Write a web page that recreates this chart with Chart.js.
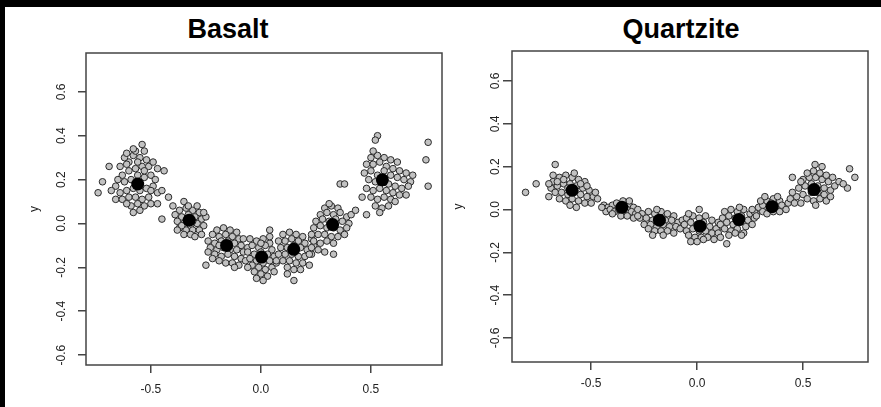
<!DOCTYPE html>
<html>
<head>
<meta charset="utf-8">
<script src="https://cdn.jsdelivr.net/npm/chart.js@4"></script>
<style>
  body { margin: 0; background: #000; width: 881px; height: 407px; overflow: hidden; }
  #sheet { position: absolute; left: 5px; top: 7px; width: 876px; height: 400px; background: #fff; }
  canvas { position: absolute; top: 0; }
  .title { position: absolute; top: 9px; font: bold 27px "Liberation Sans", Arial, sans-serif; line-height: 27px; color: #000; white-space: nowrap; transform: translateX(-50%); }
</style>
</head>
<body>
<div id="sheet">
  <div class="title" style="left:223px">Basalt</div>
  <div class="title" style="left:676px">Quartzite</div>
  <canvas id="basalt" width="446" height="400" style="left:0"></canvas>
  <canvas id="quartzite" width="430" height="400" style="left:446px"></canvas>
</div>
<script>
const xTickValues = [-0.5, 0, 0.5];
const yTickValues = [-0.6, -0.4, -0.2, 0, 0.2, 0.4, 0.6];

// cluster means (black dots)
const basaltCentres = [[-0.56,0.18],[-0.326,0.015],[-0.156,-0.10],[0.003,-0.153],[0.149,-0.118],[0.326,-0.005],[0.552,0.199]];
const quartziteCentres = [[-0.59,0.09],[-0.355,0.01],[-0.178,-0.05],[0.014,-0.078],[0.197,-0.047],[0.354,0.013],[0.552,0.093]];

// individual samples
const basaltPoints = [
  [-0.60,0.28],[-0.58,0.31],[-0.55,0.30],[-0.52,0.29],[-0.51,0.26],[-0.54,0.26],[-0.57,0.25],[-0.60,0.24],[-0.63,0.22],[-0.62,0.19],
  [-0.59,0.20],[-0.56,0.22],[-0.53,0.21],[-0.50,0.22],[-0.48,0.20],[-0.49,0.17],[-0.52,0.16],[-0.55,0.15],[-0.58,0.16],[-0.61,0.15],
  [-0.64,0.14],[-0.66,0.11],[-0.63,0.11],[-0.60,0.12],[-0.57,0.12],[-0.54,0.11],[-0.51,0.12],[-0.53,0.08],[-0.56,0.09],[-0.59,0.08],
  [-0.61,0.09],[-0.58,0.05],[-0.55,0.06],[-0.50,0.09],[-0.47,0.14],[-0.47,0.25],[-0.53,0.24],[-0.61,0.27],[-0.64,0.26],[-0.66,0.17],
  [-0.68,0.15],[-0.62,0.30],[-0.57,0.33],[-0.53,0.33],[-0.49,0.28],[-0.56,0.28],[-0.50,0.15],[-0.65,0.20],
  [-0.74,0.14],[-0.72,0.19],[-0.69,0.26],[-0.54,0.36],[-0.58,0.34],[-0.61,0.32],[-0.44,0.24],[-0.45,0.15],[-0.42,0.12],[-0.47,0.09],
  [-0.45,0.02],[-0.40,0.08],[-0.35,0.10],
  [-0.37,0.06],[-0.34,0.07],[-0.31,0.06],[-0.28,0.05],[-0.36,0.03],[-0.33,0.04],[-0.30,0.03],[-0.27,0.02],[-0.38,0.01],[-0.35,0.00],
  [-0.32,-0.01],[-0.29,0.00],[-0.26,-0.01],[-0.37,-0.02],[-0.34,-0.03],[-0.31,-0.03],[-0.28,-0.03],[-0.35,-0.05],[-0.32,-0.05],[-0.30,-0.06],
  [-0.39,0.04],[-0.29,0.08],[-0.25,0.03],[-0.33,0.02],[-0.31,0.01],[-0.36,-0.01],[-0.27,-0.05],[-0.38,-0.03],[-0.33,0.08],[-0.26,0.05],
  [-0.20,-0.03],[-0.17,-0.02],[-0.14,-0.03],[-0.11,-0.04],[-0.22,-0.05],[-0.19,-0.06],[-0.16,-0.05],[-0.13,-0.06],[-0.10,-0.07],[-0.24,-0.08],
  [-0.21,-0.09],[-0.18,-0.08],[-0.15,-0.08],[-0.12,-0.09],[-0.09,-0.10],[-0.23,-0.11],[-0.20,-0.12],[-0.17,-0.11],[-0.14,-0.12],[-0.11,-0.12],
  [-0.08,-0.13],[-0.21,-0.14],[-0.18,-0.15],[-0.15,-0.14],[-0.12,-0.15],[-0.09,-0.16],[-0.19,-0.17],[-0.16,-0.18],[-0.13,-0.18],[-0.10,-0.19],
  [-0.07,-0.17],[-0.22,-0.16],[-0.08,-0.07],[-0.06,-0.11],[-0.24,-0.13],[-0.12,-0.20],[-0.16,-0.10],[-0.19,-0.10],[-0.25,-0.19],
  [-0.05,-0.07],[-0.02,-0.08],[0.01,-0.07],[0.04,-0.09],[-0.04,-0.10],[-0.01,-0.11],[0.02,-0.10],[0.05,-0.12],[-0.06,-0.13],[-0.03,-0.14],
  [0.00,-0.13],[0.03,-0.14],[0.06,-0.15],[-0.05,-0.16],[-0.02,-0.17],[0.01,-0.18],[0.04,-0.17],[-0.04,-0.19],[-0.01,-0.20],[0.02,-0.21],
  [0.05,-0.20],[-0.03,-0.22],[0.00,-0.23],[0.03,-0.24],[-0.02,-0.25],[0.01,-0.26],[0.07,-0.18],[0.06,-0.22],[-0.06,-0.20],[0.04,-0.06],
  [0.00,-0.09],[0.04,-0.03],
  [0.10,-0.05],[0.13,-0.04],[0.16,-0.05],[0.19,-0.06],[0.08,-0.08],[0.11,-0.08],[0.14,-0.07],[0.17,-0.08],[0.20,-0.09],[0.23,-0.07],
  [0.09,-0.11],[0.12,-0.11],[0.15,-0.10],[0.18,-0.11],[0.21,-0.12],[0.08,-0.14],[0.11,-0.14],[0.14,-0.14],[0.17,-0.15],[0.20,-0.15],
  [0.23,-0.14],[0.10,-0.17],[0.13,-0.17],[0.16,-0.18],[0.19,-0.18],[0.22,-0.19],[0.12,-0.20],[0.15,-0.21],[0.07,-0.17],[0.18,-0.21],
  [0.24,-0.10],[0.15,-0.26],[0.12,-0.23],
  [0.29,0.07],[0.32,0.08],[0.35,0.07],[0.27,0.04],[0.30,0.05],[0.33,0.04],[0.36,0.05],[0.39,0.03],[0.25,0.01],[0.28,0.02],
  [0.31,0.01],[0.34,0.02],[0.37,0.01],[0.40,0.00],[0.24,-0.02],[0.27,-0.01],[0.30,-0.02],[0.33,-0.02],[0.36,-0.03],[0.39,-0.02],
  [0.23,-0.05],[0.26,-0.05],[0.29,-0.05],[0.32,-0.06],[0.35,-0.06],[0.24,-0.08],[0.27,-0.09],[0.30,-0.08],[0.33,-0.09],[0.23,-0.11],
  [0.26,-0.12],[0.22,-0.14],[0.41,0.04],[0.38,-0.05],[0.31,0.09],
  [0.29,-0.13],[0.33,-0.14],[0.36,0.18],[0.38,0.18],[0.43,0.06],[0.48,0.04],
  [0.50,0.30],[0.53,0.31],[0.56,0.30],[0.59,0.29],[0.62,0.28],[0.48,0.27],[0.51,0.27],[0.54,0.28],[0.57,0.26],[0.60,0.25],
  [0.63,0.24],[0.66,0.23],[0.47,0.23],[0.50,0.24],[0.53,0.22],[0.56,0.24],[0.59,0.22],[0.62,0.21],[0.65,0.20],[0.68,0.19],
  [0.49,0.20],[0.52,0.19],[0.58,0.18],[0.61,0.17],[0.64,0.16],[0.67,0.17],[0.48,0.16],[0.51,0.15],[0.54,0.16],[0.57,0.15],
  [0.60,0.14],[0.63,0.13],[0.50,0.12],[0.53,0.11],[0.56,0.12],[0.59,0.11],[0.52,0.08],[0.55,0.07],[0.58,0.08],[0.61,0.10],
  [0.46,0.12],[0.69,0.22],[0.66,0.13],[0.55,0.20],
  [0.53,0.40],[0.52,0.38],[0.51,0.33],[0.54,0.05],[0.76,0.37],[0.75,0.29],[0.76,0.17]
];

const quartzitePoints = [
  [-0.68,0.13],[-0.65,0.15],[-0.62,0.16],[-0.59,0.15],[-0.56,0.14],[-0.53,0.13],[-0.69,0.10],[-0.66,0.11],[-0.63,0.12],[-0.60,0.12],
  [-0.57,0.11],[-0.54,0.10],[-0.51,0.09],[-0.67,0.08],[-0.64,0.08],[-0.61,0.07],[-0.58,0.08],[-0.55,0.07],[-0.52,0.06],[-0.49,0.06],
  [-0.65,0.05],[-0.62,0.04],[-0.59,0.05],[-0.56,0.04],[-0.53,0.03],[-0.50,0.03],[-0.47,0.05],[-0.60,0.02],[-0.57,0.01],[-0.63,0.14],
  [-0.58,0.17],[-0.61,0.10],[-0.48,0.08],[-0.55,0.12],[-0.66,0.13],[-0.70,0.12],[-0.52,0.11],
  [-0.81,0.08],[-0.76,0.12],[-0.67,0.21],[-0.70,0.06],[-0.68,0.16],
  [-0.44,0.02],[-0.42,0.01],[-0.40,0.02],[-0.38,0.03],[-0.36,0.02],[-0.34,0.03],[-0.32,0.02],[-0.30,0.01],[-0.43,-0.01],[-0.41,0.00],
  [-0.39,-0.01],[-0.37,0.00],[-0.35,-0.01],[-0.33,0.00],[-0.31,-0.01],[-0.29,-0.02],[-0.40,-0.02],[-0.36,-0.03],[-0.33,-0.03],[-0.30,-0.04],
  [-0.45,0.01],[-0.28,0.00],[-0.35,0.04],[-0.32,0.04],
  [-0.26,-0.02],[-0.23,-0.01],[-0.20,-0.02],[-0.17,-0.01],[-0.14,-0.02],[-0.11,-0.03],[-0.27,-0.04],[-0.24,-0.04],[-0.21,-0.05],[-0.18,-0.04],
  [-0.15,-0.05],[-0.12,-0.05],[-0.09,-0.06],[-0.25,-0.07],[-0.22,-0.07],[-0.19,-0.08],[-0.16,-0.07],[-0.13,-0.08],[-0.10,-0.08],[-0.23,-0.09],
  [-0.20,-0.10],[-0.17,-0.10],[-0.14,-0.10],[-0.11,-0.11],[-0.21,-0.12],[-0.08,-0.09],[-0.19,0.00],[-0.07,-0.05],[-0.16,-0.12],[-0.28,-0.03],
  [-0.05,-0.04],[-0.02,-0.03],[0.01,-0.04],[0.04,-0.03],[0.07,-0.05],[0.10,-0.06],[-0.06,-0.07],[-0.03,-0.06],[0.00,-0.07],[0.03,-0.06],
  [0.06,-0.08],[0.09,-0.09],[0.12,-0.08],[-0.05,-0.10],[-0.02,-0.09],[0.01,-0.10],[0.04,-0.10],[0.07,-0.11],[0.10,-0.11],[-0.04,-0.12],
  [-0.01,-0.13],[0.02,-0.13],[0.05,-0.13],[0.08,-0.14],[-0.03,-0.15],[0.00,-0.15],[0.03,-0.14],[-0.04,-0.02],[0.01,0.00],[0.11,-0.13],
  [0.13,-0.01],[0.16,0.00],[0.19,-0.01],[0.22,0.00],[0.25,-0.02],[0.12,-0.04],[0.15,-0.03],[0.18,-0.04],[0.21,-0.03],[0.24,-0.05],
  [0.27,-0.04],[0.11,-0.07],[0.14,-0.06],[0.17,-0.07],[0.20,-0.06],[0.23,-0.08],[0.26,-0.07],[0.13,-0.09],[0.16,-0.10],[0.19,-0.09],
  [0.22,-0.11],[0.15,-0.12],[0.18,-0.11],[0.28,-0.02],[0.20,0.01],[0.14,-0.16],[0.21,-0.12],
  [0.27,-0.01],[0.29,0.01],[0.31,0.02],[0.33,0.04],[0.36,0.05],[0.39,0.04],[0.28,-0.03],[0.31,-0.01],[0.34,0.00],[0.37,0.01],
  [0.40,0.02],[0.43,0.03],[0.30,0.04],[0.33,-0.02],[0.36,-0.01],[0.39,-0.01],[0.42,0.00],[0.35,0.03],[0.38,0.06],[0.44,0.05],
  [0.32,0.06],[0.26,0.00],
  [0.47,0.06],[0.50,0.07],[0.46,0.03],[0.49,0.03],[0.52,0.05],[0.55,0.04],[0.58,0.05],[0.61,0.04],[0.48,0.10],[0.51,0.11],
  [0.54,0.12],[0.57,0.11],[0.60,0.10],[0.63,0.09],[0.50,0.14],[0.53,0.15],[0.56,0.15],[0.59,0.14],[0.62,0.13],[0.52,0.17],
  [0.55,0.18],[0.58,0.17],[0.61,0.16],[0.54,0.08],[0.57,0.08],[0.60,0.07],[0.63,0.06],[0.45,0.08],[0.65,0.11],[0.64,0.15],
  [0.49,0.13],[0.56,0.02],[0.59,0.20],
  [0.45,0.15],[0.557,0.21],[0.72,0.19],[0.745,0.15],[0.71,0.10],[0.67,0.13],[0.69,0.12]
];

const boxPlugin = {
  id: "box",
  beforeDatasetsDraw(chart) {
    const { ctx, chartArea: a } = chart;
    ctx.save();
    ctx.strokeStyle = "#444";
    ctx.lineWidth = 1.5;
    ctx.strokeRect(a.left, a.top, a.right - a.left, a.bottom - a.top);
    ctx.restore();
  },
};

const tickFont = { family: "Liberation Sans, Arial, sans-serif", size: 12 };

function makePanel(id, points, centres, xr, yr, lay) {
  const toXY = (p) => ({ x: p[0], y: p[1] });
  return new Chart(document.getElementById(id), {
    type: "scatter",
    data: {
      datasets: [
        { data: centres.map(toXY), pointRadius: 6.5, backgroundColor: "#000", borderColor: "#000", borderWidth: 0 },
        { data: points.map(toXY), pointRadius: 3.3, backgroundColor: "#c2c2c2", borderColor: "#2a2a2a", borderWidth: 1 },
      ],
    },
    options: {
      responsive: false,
      animation: false,
      devicePixelRatio: 1,
      layout: { padding: { top: lay.top, right: lay.right, bottom: 0, left: 0 } },
      plugins: { legend: { display: false }, tooltip: { enabled: false } },
      scales: {
        x: {
          type: "linear",
          min: xr[0],
          max: xr[1],
          afterBuildTicks: (s) => { s.ticks = xTickValues.map((v) => ({ value: v })); },
          afterFit: (s) => { s.height = lay.xh; },
          border: { display: false },
          grid: { drawOnChartArea: false, drawTicks: true, tickLength: 8, color: "#444", lineWidth: 1.5 },
          ticks: { font: tickFont, color: "#222", padding: lay.xp, callback: (v) => v.toFixed(1) },
        },
        y: {
          type: "linear",
          min: yr[0],
          max: yr[1],
          afterBuildTicks: (s) => { s.ticks = yTickValues.map((v) => ({ value: v })); },
          afterFit: (s) => { s.width = lay.yw; },
          border: { display: false },
          grid: { drawOnChartArea: false, drawTicks: true, tickLength: lay.tl, color: "#444", lineWidth: 1.5 },
          ticks: { font: tickFont, color: "#222", padding: lay.tp, minRotation: 90, maxRotation: 90, crossAlign: "center", callback: (v) => v.toFixed(1) },
          title: { display: true, text: "y", font: tickFont, color: "#222", padding: { top: lay.yt, bottom: 0 } },
        },
      },
    },
    plugins: [boxPlugin],
  });
}

makePanel("basalt", basaltPoints, basaltCentres, [-0.795, 0.823], [-0.645, 0.777],
  { top: 46, right: 9, xh: 42, yw: 81, tl: 8, tp: 6, yt: 22, xp: 9 });
makePanel("quartzite", quartzitePoints, quartziteCentres, [-0.874, 0.807], [-0.712, 0.74],
  { top: 44, right: 13, xh: 45, yw: 61, tl: 9, tp: -3, yt: 0, xp: 6 });
</script>
</body>
</html>
